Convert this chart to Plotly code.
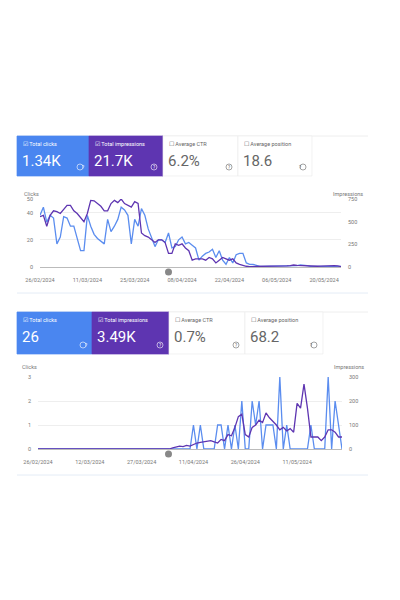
import plotly.graph_objects as go
import pandas as pd

# ---------- data ----------
top_dates = pd.date_range("2024-02-26", periods=90, freq="D")
top_clicks = [38,44,33,38,36,17,22,37,36,30,30,20,12,12,38,30,24,21,19,17,
              35,26,30,35,44,42,38,17,35,30,43,38,28,22,15,20,20,18,25,14,
              15,20,22,17,18,16,14,5,8,10,11,13,7,12,5,2,7,3,9,10,
              10,3,2,2,1,0.5,0.5,0.5,0.5,0.5,0.5,0.5,0.5,0.5,0.5,0.5,1,1.5,1.5,1,
              0.5,0.5,0.5,0.5,0.5,0.5,0.8,1,1,0.5]
top_impr = [555,570,450,570,620,610,590,630,680,680,620,590,540,500,590,735,730,700,670,620,
            620,700,735,710,750,700,680,660,720,700,375,345,330,300,270,300,300,270,150,150,
            255,240,255,210,180,75,90,90,90,75,105,90,45,75,105,90,75,90,45,30,
            15,8,5,5,5,5,5,5,5,5,5,5,8,12,15,22,18,15,12,9,
            8,8,8,9,12,12,15,15,12,5]
top_ticks = ["2024-02-26","2024-03-11","2024-03-25","2024-04-08","2024-04-22","2024-05-06","2024-05-20"]
top_ticklabels = ["26/02/2024","11/03/2024","25/03/2024","08/04/2024","22/04/2024","06/05/2024","20/05/2024"]
top_cards = [("Total clicks","1.34K"),("Total impressions","21.7K"),("Average CTR","6.2%"),("Average position","18.6")]

bot_dates = pd.date_range("2024-02-26", periods=89, freq="D")
bot_clicks = [0]*45 + [1,0,1,0,0,0,0,1,1,0,1,0,1,0,2,0,0,2,1,2,0,1,1,1,0,3,0,1,0,0,0,0,0,0,1,0,0,0,0,3,0,2,1,0]
bot_impr = [0]*39 + [5,10,12,10,15,12,20,25,28,30,35,35,30,25,40,35,60,55,90,135,
                     145,60,50,90,100,120,110,150,130,115,100,80,90,75,85,70,190,170,270,170,
                     50,50,50,35,50,80,80,70,50,50]
bot_ticks = ["2024-02-26","2024-03-12","2024-03-27","2024-04-11","2024-04-26","2024-05-11"]
bot_ticklabels = ["26/02/2024","12/03/2024","27/03/2024","11/04/2024","26/04/2024","11/05/2024"]
bot_cards = [("Total clicks","26"),("Total impressions","3.49K"),("Average CTR","0.7%"),("Average position","68.2")]

W, H = 400, 600
BLUE = "#4a86f0"
PURPLE = "#5e35b1"
LBLUE = "#5b8def"
FONT = "Roboto"

def px(x): return x / W
def py(y): return 1 - y / H

fig = go.Figure()
shapes, ann = [], []

def panel(n, dates, clicks, impr, ticks, ticklabels, cards, x0, x1, ytop, ybot, cy0, cy1, cardx,
          cmax, imax, ctick, itick, xr, fr0, fr1):
    xa = "x" if n == 1 else "x%d" % (2*n-1)
    ya1 = "y%d" % (2*n-1) if n > 1 else "y"
    ya2 = "y%d" % (2*n)
    xname = "xaxis" if n == 1 else "xaxis%d" % (2*n-1)
    y1name = "yaxis" if n == 1 else "yaxis%d" % (2*n-1)
    y2name = "yaxis%d" % (2*n)
    fig.add_trace(go.Scatter(x=dates, y=clicks, mode="lines", line=dict(color=LBLUE, width=1.3),
                             xaxis=xa, yaxis=ya1, showlegend=False, cliponaxis=False))
    fig.add_trace(go.Scatter(x=dates, y=impr, mode="lines", line=dict(color=PURPLE, width=1.3),
                             xaxis=xa, yaxis=ya2, showlegend=False, cliponaxis=False))
    tf = dict(size=5.5, color="#777", family=FONT)
    fig.layout[xname] = dict(domain=[px(x0), px(x1)], range=xr, anchor=ya1, automargin=False,
                             tickvals=ticks, ticktext=ticklabels, showgrid=False, zeroline=False,
                             tickfont=tf, ticks="", showline=False, ticklabelstandoff=8)
    fig.layout[y1name] = dict(domain=[py(ybot), py(ytop)], range=[0, cmax], anchor=xa, tickvals=ctick,
                              tickfont=tf, gridcolor="#eeeeee", automargin=False, ticklabelstandoff=6,
                              zeroline=True, zerolinecolor="#bbbbbb", zerolinewidth=1, ticks="")
    fig.layout[y2name] = dict(domain=[py(ybot), py(ytop)], range=[0, imax], anchor=xa, overlaying=ya1,
                              side="right", tickvals=itick, showgrid=False, zeroline=False, automargin=False,
                              tickfont=tf, ticks="", ticklabelstandoff=6)
    ann.append(dict(x=px(x0-18), y=py(ytop-10), xref="paper", yref="paper", text="Clicks", showarrow=False,
                    xanchor="left", font=tf))
    ann.append(dict(x=px(x1+24), y=py(ytop-10), xref="paper", yref="paper", text="Impressions", showarrow=False,
                    xanchor="right", font=tf))
    shapes.append(dict(type="line", xref="paper", yref="paper", x0=px(17), x1=px(368), y0=py(fr0), y1=py(fr0),
                       line=dict(color="#eeeeee", width=1)))
    shapes.append(dict(type="line", xref="paper", yref="paper", x0=px(17), x1=px(368), y0=py(fr1), y1=py(fr1),
                       line=dict(color="#e4ecf6", width=1)))
    shapes.append(dict(type="circle", xref="paper", yref="paper", x0=px(165), x1=px(172),
                       y0=py(ybot+8.5), y1=py(ybot+1.5), fillcolor="#888", line=dict(width=0)))
    for i, (lab, val) in enumerate(cards):
        a, b = cardx[i], cardx[i+1]
        fill = BLUE if i == 0 else (PURPLE if i == 1 else "white")
        tc = "white" if i < 2 else "#666"
        shapes.append(dict(type="rect", xref="paper", yref="paper", x0=px(a), x1=px(b), y0=py(cy1), y1=py(cy0),
                           fillcolor=fill, line=dict(color="#ececec" if i >= 2 else fill, width=0.7)))
        ann.append(dict(x=px(a+4), y=py(cy0+8), xref="paper", yref="paper", yanchor="middle",
                        text=("☑ " if i < 2 else "☐ ") + lab, showarrow=False, xanchor="left",
                        font=dict(size=5.5, color=tc, family=FONT)))
        ann.append(dict(x=px(a+3), y=py(cy0+25), xref="paper", yref="paper", yanchor="middle", text=val,
                        showarrow=False, xanchor="left", font=dict(size=15, color=tc, family=FONT)))
        shapes.append(dict(type="circle", xref="paper", yref="paper", x0=px(b-12), x1=px(b-6),
                           y0=py(cy1-6), y1=py(cy1-12), line=dict(color=tc, width=0.6)))
        ann.append(dict(x=px(b-9), y=py(cy1-9), xref="paper", yref="paper", yanchor="middle", text="?",
                        showarrow=False, font=dict(size=4.5, color=tc, family=FONT)))

panel(1, top_dates, top_clicks, top_impr, top_ticks, top_ticklabels, top_cards,
      40, 341, 199, 267, 136, 176, [17, 89, 163, 238, 312],
      50, 750, [0, 20, 40, 50], [0, 250, 500, 750],
      ["2024-02-26", "2024-05-25"], 136, 293)
panel(2, bot_dates, bot_clicks, bot_impr, bot_ticks, bot_ticklabels, bot_cards,
      38, 342, 377, 449, 312, 354, [17, 92, 169, 245, 323],
      3, 300, [0, 1, 2, 3], [0, 100, 200, 300],
      ["2024-02-26", "2024-05-24"], 312, 475)

fig.update_layout(autosize=True, margin=dict(l=0, r=0, t=0, b=0), paper_bgcolor="white",
                  plot_bgcolor="white", shapes=shapes, annotations=ann, font=dict(family=FONT))
fig.write_html("out.html", default_width="100vw", default_height="100vh",
               config=dict(displayModeBar=False),
               post_script="document.body.style.margin='0';document.body.style.overflow='hidden';")
